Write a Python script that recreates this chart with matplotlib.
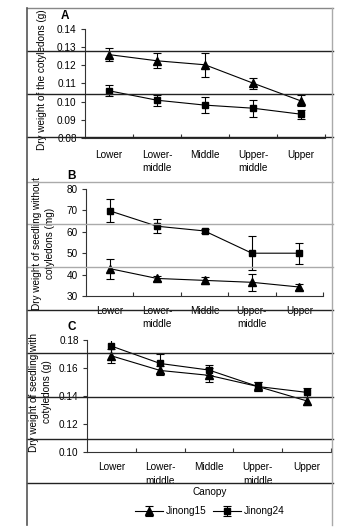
import matplotlib
matplotlib.use("Agg")
import matplotlib.pyplot as plt
from matplotlib.lines import Line2D

plt.rcParams['font.family'] = ['Liberation Sans', 'DejaVu Sans']
plt.rcParams['font.size'] = 7.2

# datos
canopy = ["Lower", "Lower-\nmiddle", "Middle", "Upper-\nmiddle", "Upper"]

a_j15 = [0.1259, 0.1225, 0.1203, 0.1102, 0.1004]
a_j15_err = [0.0036, 0.0041, 0.0066, 0.0030, 0.0030]
a_j24 = [0.1060, 0.1008, 0.0981, 0.0964, 0.0931]
a_j24_err = [0.0029, 0.0030, 0.0045, 0.0046, 0.0025]

b_j15 = [42.8, 38.2, 37.3, 36.4, 34.2]
b_j15_err = [4.7, 1.0, 1.6, 3.9, 1.2]
b_j24 = [69.8, 62.6, 60.4, 50.0, 50.0]
b_j24_err = [5.3, 3.3, 0.8, 8.0, 5.0]

c_j15 = [0.1690, 0.1585, 0.1550, 0.1470, 0.1367]
c_j15_err = [0.0050, 0.0030, 0.0050, 0.0030, 0.0030]
c_j24 = [0.1760, 0.1635, 0.1588, 0.1470, 0.1428]
c_j24_err = [0.0050, 0.0070, 0.0035, 0.0030, 0.0030]

W, H = 349, 530
fig = plt.figure(figsize=(W / 100, H / 100), dpi=100)


def fx(x):
    return x / W


def fy(y):
    return 1 - y / H


def panel(left, right, top, bottom, j15, e15, j24, e24, ylim, yticks, fmt, pad, letter, lx, ly):
    ax = fig.add_axes([fx(left), fy(bottom), fx(right - left), (bottom - top) / H])
    x = list(range(len(canopy)))
    ax.errorbar(x, j15, yerr=e15, color='black', marker='^', ms=6, lw=0.8,
                elinewidth=0.8, capsize=3, capthick=0.8, label='Jinong15')
    ax.errorbar(x, j24, yerr=e24, color='black', marker='s', ms=5, lw=0.8,
                elinewidth=0.8, capsize=3, capthick=0.8, label='Jinong24')
    ax.set_xlim(-0.5, len(canopy) - 0.5)
    ax.set_ylim(*ylim)
    ax.set_yticks(yticks)
    ax.set_yticklabels([fmt.format(v) for v in yticks])
    ax.set_xticks(x)
    ax.set_xticklabels(canopy, linespacing=1.45)
    ax.set_xticks([i + 0.5 for i in x], minor=True)
    ax.tick_params(axis='x', which='major', length=0, pad=pad)
    ax.tick_params(axis='x', which='minor', direction='in', length=3, width=0.8, color='#333')
    ax.tick_params(axis='y', direction='out', length=3, width=0.8, color='#333', pad=3)
    for s in ['top', 'right']:
        ax.spines[s].set_visible(False)
    for s in ['left', 'bottom']:
        ax.spines[s].set_color('#333')
        ax.spines[s].set_linewidth(0.8)
    fig.text(fx(lx), fy(ly), letter, fontsize=8.5, fontweight='bold', ha='center', va='center')
    return ax


axA = panel(85, 325, 29, 138, a_j15, a_j15_err, a_j24, a_j24_err,
            (0.08, 0.14), [0.08, 0.09, 0.10, 0.11, 0.12, 0.13, 0.14], "{:.2f}", 8.5, "A", 65, 16)
axB = panel(86, 323, 189, 296, b_j15, b_j15_err, b_j24, b_j24_err,
            (30, 80), [30, 40, 50, 60, 70, 80], "{:.0f}", 7, "B", 72, 176)
axC = panel(87, 331, 340.5, 452, c_j15, c_j15_err, c_j24, c_j24_err,
            (0.10, 0.18), [0.10, 0.12, 0.14, 0.16, 0.18], "{:.2f}", 7.5, "C", 72, 327)

fig.text(fx(42), fy(80), "Dry weight of the cotyledons (g)", rotation=90, ha='center', va='center')
fig.text(fx(43.5), fy(243), "Dry weight of seedling without\ncotyledons (mg)", rotation=90,
         ha='center', va='center', multialignment='center', linespacing=1.3)
fig.text(fx(40.5), fy(392), "Dry weight of seedling with\ncotyledons (g)", rotation=90,
         ha='center', va='center', multialignment='center', linespacing=1.3)

fig.text(fx(210), fy(492), "Canopy", ha='center', va='center')
h, l = axC.get_legend_handles_labels()
fig.legend(h, l, loc='center', bbox_to_anchor=(fx(210), fy(511)), ncol=2, frameon=False,
           handlelength=2.8, columnspacing=0.6, handletextpad=0.3)

# líneas de la tabla escaneada
dark = [51, 94, 137, 310, 353, 397, 439, 483]
light = [182, 224, 267]
for y in dark:
    fig.add_artist(Line2D([fx(27), fx(333)], [fy(y), fy(y)], color='#222', lw=1.0, zorder=5))
for y in light:
    fig.add_artist(Line2D([fx(27), fx(333)], [fy(y), fy(y)], color='#aaa', lw=1.0, zorder=5))
fig.add_artist(Line2D([fx(27), fx(333)], [fy(8), fy(8)], color='#888', lw=1.0, zorder=5))
fig.add_artist(Line2D([fx(27), fx(27)], [fy(8), fy(525)], color='#555', lw=1.2, zorder=5))
fig.add_artist(Line2D([fx(332), fx(332)], [fy(8), fy(525)], color='#aaa', lw=1.0, zorder=5))

fig.savefig("out.png", dpi=100)
